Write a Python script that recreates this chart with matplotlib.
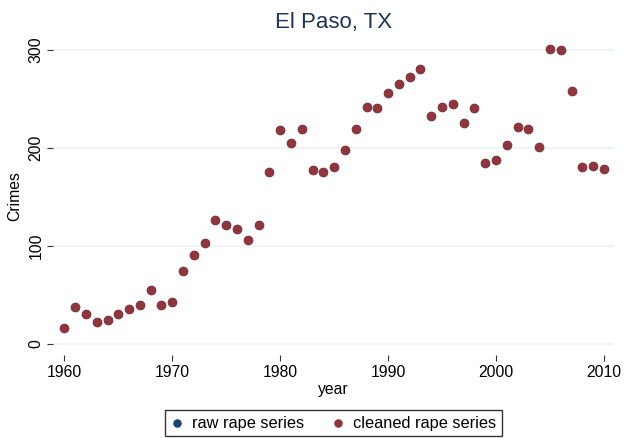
import matplotlib
matplotlib.use("Agg")
import matplotlib.pyplot as plt

years = list(range(1960, 2011))
raw_rape = [16, 38, 31, 22, 25, 31, 36, 40, 55, 40, 43, 74, 91, 103, 126, 121, 117, 106, 121,
            175, 218, 205, 219, 177, 175, 181, 198, 219, 242, 241, 256, 265, 272, 281,
            233, 242, 245, 225, 241, 185, 188, 203, 221, 219, 201, 301, 300, 258, 181, 182, 179]
cleaned_rape = list(raw_rape)
title = "El Paso, TX"
xticks = [1960, 1970, 1980, 1990, 2000, 2010]
yticks = [0, 100, 200, 300]

plt.rcParams['font.family'] = ['Liberation Sans', 'DejaVu Sans']

fig = plt.figure(figsize=(6.25, 4.38), dpi=100)
ax = fig.add_axes([0.0848, 0.1895, 0.8976, 0.7235])

navy = '#1a476f'
maroon = '#90353b'

ax.scatter(years, raw_rape, s=6.8**2, color=navy, label='raw rape series', zorder=3, linewidths=0)
ax.scatter(years, cleaned_rape, s=6.8**2, color=maroon, label='cleaned rape series', zorder=4, linewidths=0)

ax.set_xlim(1958.95, 2010.93)
ax.set_ylim(-11.2, 312)
ax.set_xticks(xticks)
ax.set_yticks(yticks)
ax.set_xticklabels([str(t) for t in xticks], fontsize=11.3)
ax.set_yticklabels([str(t) for t in yticks], fontsize=11.3, rotation=90, va='center')
ax.grid(axis='y', color='#eaf2f3', linewidth=1.2, zorder=0)
ax.grid(axis='x', visible=False)
for s in ax.spines.values():
    s.set_visible(False)
ax.tick_params(axis='both', direction='out', length=4, width=0.8, color='#333333', pad=3)
ax.set_xlabel('year', fontsize=11.3, labelpad=2)
ax.set_ylabel('Crimes', fontsize=11.3, labelpad=4)
ax.set_title(title, fontsize=16, color='#1e3559', pad=7)

leg = fig.legend(loc='lower center', bbox_to_anchor=(0.534, 0.0), ncol=2, fontsize=11.8,
                 frameon=True, fancybox=False, edgecolor='black', handlelength=0.7,
                 handletextpad=0.6, columnspacing=1.7, markerscale=0.9, borderpad=0.35,
                 borderaxespad=0.1)
leg.get_frame().set_linewidth(1.0)

fig.savefig('out.png', dpi=100, facecolor='white')
